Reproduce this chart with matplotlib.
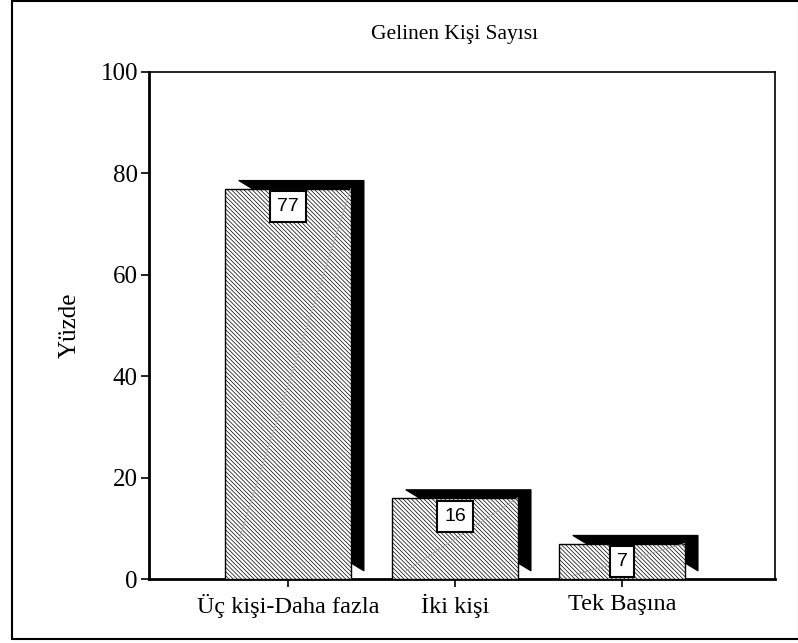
import matplotlib.pyplot as plt
from matplotlib.patches import Polygon, Rectangle
import numpy as np

plt.rcParams['font.family'] = ['Liberation Serif', 'DejaVu Serif']
plt.rcParams['hatch.linewidth'] = 0.5
plt.rcParams['hatch.color'] = '#b2b2b2'

# Data
categories = ['Üç kişi-Daha fazla', 'İki kişi', 'Tek Başına']
percent = [77, 16, 7]
labels = ['77', '16', '7']

W, H = 798, 643
fig = plt.figure(figsize=(W / 100, H / 100), dpi=100)

# outer frame
fig.patches.append(Rectangle((12 / W, 1 - 639 / H), (799 - 12) / W, 639 / H - 0.001,
                             transform=fig.transFigure, fill=False,
                             edgecolor='black', lw=1.5))

ax = fig.add_axes([149 / W, 1 - 579 / H, (775 - 149) / W, (579 - 72) / H])

x = np.arange(len(categories))
width = 0.75
dx = 0.08   # shadow offset (x, data units)
dy = 1.6    # shadow offset (y, data units)

# shadows
for xi, v in zip(x, percent):
    x0, x1 = xi - width / 2, xi + width / 2
    pts = [(x0 + dx, v + dy), (x1 + dx, v + dy), (x1 + dx, dy),
           (x1, 2 * dy), (x1, v), (x0 + 2 * dx, v)]
    ax.add_patch(Polygon(pts, closed=True, facecolor='black',
                         edgecolor='black', lw=0.8, zorder=2))

# front bars
bars = ax.bar(x, percent, width=width, color='white', edgecolor='black',
              hatch='\\' * 8, lw=1.0, zorder=3)

# faint diagonal inside each bar
for xi, v in zip(x, percent):
    x0, x1 = xi - width / 2, xi + width / 2
    ax.plot([x0 + 0.11 * width, x1], [0.1 * v, v], color='#a0a0a0',
            lw=0.6, zorder=4)

# value boxes
for xi, v, t in zip(x, percent, labels):
    ax.annotate(t, (xi, v), xytext=(0, -7), textcoords='offset points',
                ha='center', va='top', fontsize=14, family='Liberation Sans',
                zorder=6,
                bbox=dict(boxstyle='square,pad=0.36', fc='white', ec='black', lw=1.5))

ax.set_xlim(-0.832, 2.916)
ax.set_ylim(0, 100)
ax.set_yticks([0, 20, 40, 60, 80, 100])
ax.set_xticks(x)
ax.set_xticklabels(categories)
ax.tick_params(axis='y', labelsize=18, length=6, width=1.2, direction='out',
               colors='black', pad=2)
ax.tick_params(axis='x', labelsize=17.5, length=6, width=1.2, direction='out',
               colors='black', pad=5)
for s in ['left', 'bottom']:
    ax.spines[s].set_linewidth(2)
for s in ['top', 'right']:
    ax.spines[s].set_linewidth(1.2)

ax.set_ylabel('Yüzde', fontsize=18, labelpad=14)
fig.text(455 / W, 1 - 35 / H, 'Gelinen Kişi Sayısı', ha='center', va='center',
         fontsize=15.5)

fig.savefig('out.png', dpi=100)
